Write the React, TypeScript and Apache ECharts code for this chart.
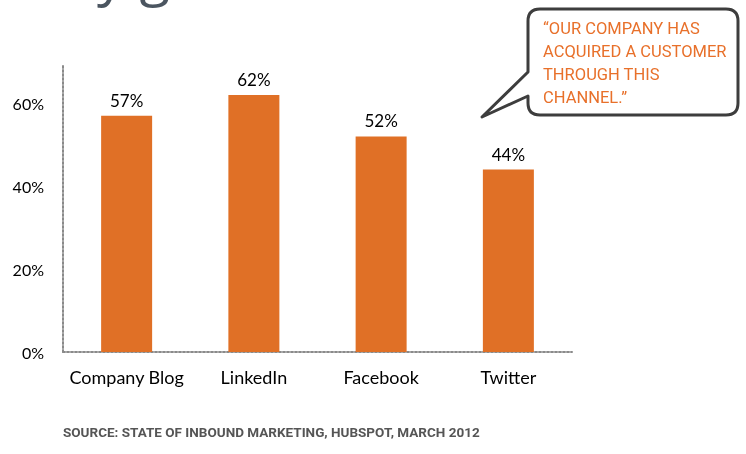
import { useEffect, useRef } from 'react'
import * as echarts from 'echarts'

const channels = ['Company Blog', 'LinkedIn', 'Facebook', 'Twitter']
const acquiredPct = [57, 62, 52, 44]
const yTicks = [0, 20, 40, 60]
const calloutLines = ['\u201COUR COMPANY HAS', 'ACQUIRED A CUSTOMER', 'THROUGH THIS', 'CHANNEL.\u201D']
const sourceNote = 'SOURCE: STATE OF INBOUND MARKETING, HUBSPOT, MARCH 2012'

const ORANGE = '#E07026'
const CALLOUT_D =
  'M540 9 H726 Q738 9 738 21 V103 Q738 115 726 115 H540 Q528 115 528 103 V96 L482 117 L528 72 V21 Q528 9 540 9 Z'

echarts.graphic.registerShape('callout', echarts.graphic.extendPath(CALLOUT_D, {}))

export default function App() {
  const chartRef = useRef<HTMLDivElement>(null)

  useEffect(() => {
    if (!chartRef.current) return
    const chart = echarts.init(chartRef.current, null, { renderer: 'svg' })

    chart.setOption({
      animation: false,
      grid: { left: 63, right: 174, top: 66, bottom: 102 },
      xAxis: {
        type: 'category',
        data: channels,
        axisLine: { lineStyle: { color: '#8a8a8a', width: 2, type: [2, 2] } },
        axisTick: { show: false },
        axisLabel: { interval: 0, color: '#000', fontSize: 18, fontFamily: 'Lato', margin: 16 }
      },
      yAxis: {
        type: 'value',
        min: 0,
        max: 69,
        interval: 20,
        axisLine: { show: true, lineStyle: { color: '#8a8a8a', width: 2, type: [2, 2] } },
        axisTick: { show: false },
        splitLine: { show: false },
        axisLabel: {
          color: '#000',
          fontSize: 16,
          fontFamily: 'Lato',
          margin: 19,
          showMaxLabel: false,
          formatter: (v: number) => (yTicks.includes(v) ? v + '%' : '')
        }
      },
      series: [{
        type: 'bar',
        data: acquiredPct,
        barWidth: 51,
        itemStyle: { color: ORANGE },
        label: {
          show: true,
          position: 'top',
          distance: 7,
          formatter: '{c}%',
          color: '#000',
          fontSize: 17,
          fontFamily: 'Lato'
        }
      }],
      graphic: [
        {
          // bottom of the slide title, cut off by the top edge
          type: 'text',
          left: 97,
          top: -56,
          style: { text: 'y g', fontSize: 56, fontFamily: 'Open Sans', fill: '#4b5560' }
        },
        {
          type: 'callout',
          x: 0,
          y: 0,
          style: { fill: '#fff', stroke: '#3d3d3d', lineWidth: 3, lineJoin: 'round' }
        },
        {
          type: 'text',
          x: 543,
          y: 17,
          style: {
            text: calloutLines.join('\n'),
            fontSize: 16.5,
            lineHeight: 23,
            fontFamily: 'Roboto',
            fill: '#E8702A'
          }
        },
        {
          type: 'text',
          x: 63,
          y: 425,
          style: {
            text: sourceNote,
            fontSize: 13.5,
            fontWeight: 'bold',
            fontFamily: 'Roboto',
            fill: '#555'
          }
        }
      ]
    })

    return () => chart.dispose()
  }, [])

  return <div ref={chartRef} style={{ position: 'fixed', left: 0, top: 0, width: 746, height: 454 }} />
}
